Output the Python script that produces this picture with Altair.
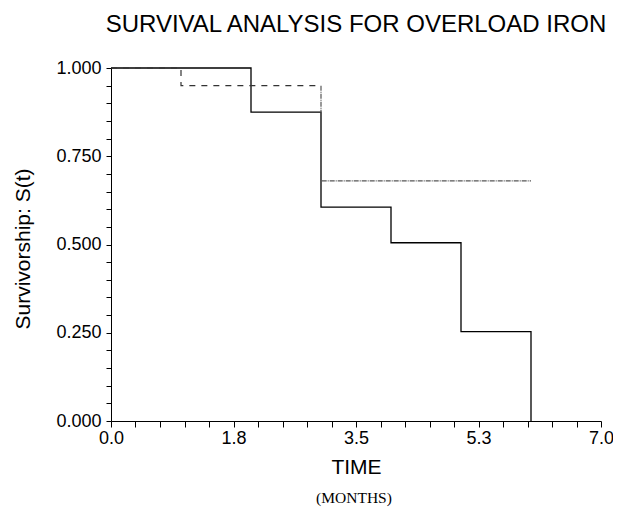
import altair as alt
import pandas as pd

# Group 1 (solid step curve)
g1_time = [0, 2, 3, 4, 5, 6]
g1_surv = [1.0, 0.875, 0.606, 0.505, 0.253, 0.0]

# Group 2 (dashed / dotted step curve)
g2_time = [0, 1, 3, 6]
g2_surv = [1.0, 0.95, 0.68, 0.68]

# axis ticks and labels
x_tick_values = [round(i * 0.35, 2) for i in range(21)]
x_label_step = 1.75
y_tick_values = [round(i * 0.05, 2) for i in range(21)]
y_label_step = 0.25

title_text = "SURVIVAL ANALYSIS FOR OVERLOAD IRON"
x_title = "TIME"
x_subtitle = "(MONTHS)"
y_title = "Survivorship: S(t)"

rows = []
for i, (t, s) in enumerate(zip(g1_time, g1_surv)):
    rows.append({"t": t, "s": s, "seg": "g1", "i": i})
# split group 2 at t=3 into a dashed and a dotted part
k = 0
last = None
for t, s in zip(g2_time, g2_surv):
    if t < 3:
        rows.append({"t": t, "s": s, "seg": "g2a", "i": k}); k += 1
        last = s
    elif t == 3:
        rows.append({"t": t, "s": last, "seg": "g2a", "i": k}); k += 1
k = 0
for t, s in zip(g2_time, g2_surv):
    if t == 3:
        rows.append({"t": t, "s": last, "seg": "g2b", "i": k}); k += 1
        rows.append({"t": t, "s": s, "seg": "g2b", "i": k}); k += 1
    elif t > 3:
        rows.append({"t": t, "s": s, "seg": "g2b", "i": k}); k += 1
df = pd.DataFrame(rows)

FONT = "Liberation Sans"
W, H = 490, 353

xtest = "abs(datum.value / %s - round(datum.value / %s)) < 0.001" % (x_label_step, x_label_step)
ytest = "abs(datum.value / %s - round(datum.value / %s)) < 0.001" % (y_label_step, y_label_step)

x_axis = alt.Axis(values=x_tick_values,
                  labelExpr="(" + xtest + ") ? format(datum.value, '.1f') : ''",
                  labelFontSize={"condition": {"test": xtest, "value": 18}, "value": 0},
                  title=x_title,
                  grid=False, tickSize=6, labelPadding=2, labelFlush=False,
                  labelOverlap=False, labelSeparation=0,
                  labelFont=FONT, labelColor="black",
                  titleFont=FONT, titleFontSize=21, titleFontWeight="normal",
                  titleColor="black", titleBaseline="alphabetic", titleY=52,
                  domainColor="black", tickColor="black")
y_axis = alt.Axis(values=y_tick_values,
                  labelExpr="(" + ytest + ") ? format(datum.value, '.3f') : ''",
                  labelFontSize={"condition": {"test": ytest, "value": 18}, "value": 0},
                  title=y_title,
                  grid=False, tickSize=5, labelPadding=5, labelFlush=False,
                  labelOverlap=False, labelSeparation=0,
                  labelFont=FONT, labelColor="black",
                  titleFont=FONT, titleFontSize=21, titleFontWeight="normal",
                  titleColor="black", titleBaseline="alphabetic",
                  titleX=-82, titleY=H / 2 + 4,
                  domainColor="black", tickColor="black")

x_enc = alt.X("t:Q", scale=alt.Scale(domain=[0, 7], nice=False, zero=False), axis=x_axis)
y_enc = alt.Y("s:Q", scale=alt.Scale(domain=[0, 1], nice=False), axis=y_axis)

base = alt.Chart(df).encode(x=x_enc, y=y_enc, order="i:Q")
solid = base.transform_filter("datum.seg == 'g1'").mark_line(
    interpolate="step-after", color="black", strokeWidth=1.3)
dashed = base.transform_filter("datum.seg == 'g2a'").mark_line(
    interpolate="step-after", color="#333333", strokeWidth=1.2, strokeDash=[6, 6])
dotted = base.transform_filter("datum.seg == 'g2b'").mark_line(
    interpolate="step-after", color="#555555", strokeWidth=1.2, strokeDash=[5, 1, 1, 1])

sub = alt.Chart(pd.DataFrame({"label": [x_subtitle]})).mark_text(
    font="Liberation Serif", fontSize=15.5, color="black", baseline="alphabetic", align="center"
).encode(x=alt.value(W / 2 - 2), y=alt.value(H + 82), text="label:N")

chart = alt.layer(solid, dashed, dotted, sub).properties(
    width=W, height=H,
    title=alt.TitleParams(title_text, font=FONT, fontSize=24, fontWeight="normal",
                          color="black", anchor="middle", offset=22),
    autosize=alt.AutoSizeParams(type="none"),
    padding={"left": 103, "top": 60, "right": 12, "bottom": 86},
).configure_view(stroke=None).configure_axis(labelOverlap=False)

chart.save("out.html", embed_options={"renderer": "svg", "actions": False})
